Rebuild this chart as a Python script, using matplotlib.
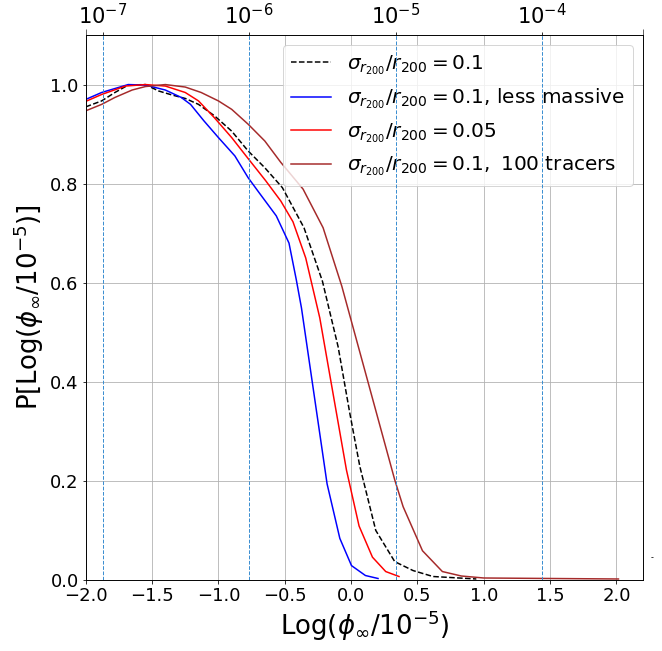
import numpy as np
import matplotlib
matplotlib.use("Agg")
import matplotlib.pyplot as plt

# sigma/r200 = 0.1 (reference run)
x_ref = [-2.0, -1.88, -1.78, -1.68, -1.55, -1.45, -1.35, -1.25, -1.15, -1.03, -0.90,
         -0.776, -0.65, -0.518, -0.355, -0.216, -0.098, -0.01, 0.066, 0.186, 0.329,
         0.467, 0.617, 0.944]
y_ref = [0.955, 0.967, 0.984, 0.999, 1.0, 0.987, 0.979, 0.972, 0.960, 0.937, 0.906,
         0.866, 0.832, 0.792, 0.711, 0.603, 0.471, 0.337, 0.229, 0.100, 0.037,
         0.019, 0.007, 0.002]

# less massive
x_lm = [-2.0, -1.88, -1.68, -1.55, -1.40, -1.28, -1.21, -1.11, -1.0, -0.876, -0.776,
        -0.694, -0.564, -0.468, -0.413, -0.374, -0.181, -0.085, 0.003, 0.108, 0.203]
y_lm = [0.970, 0.984, 1.0, 0.999, 0.989, 0.974, 0.960, 0.927, 0.893, 0.856, 0.812,
        0.782, 0.735, 0.680, 0.606, 0.549, 0.194, 0.084, 0.029, 0.009, 0.003]

# sigma/r200 = 0.05
x_005 = [-2.0, -1.88, -1.70, -1.55, -1.40, -1.25, -1.15, -1.03, -0.90, -0.783, -0.644,
         -0.53, -0.438, -0.342, -0.236, -0.035, 0.06, 0.161, 0.261, 0.361]
y_005 = [0.966, 0.980, 0.997, 1.0, 0.997, 0.984, 0.967, 0.933, 0.893, 0.853, 0.806,
         0.765, 0.723, 0.650, 0.529, 0.222, 0.109, 0.046, 0.017, 0.007]

# 100 tracers
x_100 = [-2.0, -1.88, -1.78, -1.65, -1.55, -1.40, -1.25, -1.13, -1.0, -0.90, -0.776,
         -0.65, -0.53, -0.362, -0.211, -0.07, 0.329, 0.392, 0.538, 0.688, 0.831,
         1.0, 1.5, 2.015]
y_100 = [0.947, 0.960, 0.974, 0.989, 0.996, 1.0, 0.995, 0.984, 0.967, 0.950, 0.920,
         0.886, 0.843, 0.789, 0.711, 0.593, 0.202, 0.148, 0.059, 0.017, 0.008,
         0.004, 0.003, 0.002]

labels = [r'$\sigma_{r_{200}}/r_{200}=0.1$',
          r'$\sigma_{r_{200}}/r_{200}=0.1$, less massive',
          r'$\sigma_{r_{200}}/r_{200}=0.05$',
          r'$\sigma_{r_{200}}/r_{200}=0.1,\ 100$ tracers']

# top axis decades
top_pos = [-1.873, -0.769, 0.335, 1.436]
top_labels = [r'$10^{-7}$', r'$10^{-6}$', r'$10^{-5}$', r'$10^{-4}$']

fig = plt.figure(figsize=(662 / 72, 651 / 72), dpi=72)
ax = fig.add_axes([0.1295, 0.1091, 0.9713 - 0.1295, 0.9462 - 0.1091])

ax.plot(x_ref, y_ref, 'k--', lw=1.5, label=labels[0])
ax.plot(x_lm, y_lm, color='blue', lw=1.5, label=labels[1])
ax.plot(x_005, y_005, color='red', lw=1.5, label=labels[2])
ax.plot(x_100, y_100, color='brown', lw=1.5, label=labels[3])

ax.set_xlim(-2.0, 2.2)
ax.set_ylim(0, 1.1)
ax.set_xticks(np.arange(-2.0, 2.01, 0.5))
ax.set_yticks(np.arange(0, 1.01, 0.2))
ax.tick_params(labelsize=18)
ax.grid(True)
ax.set_xlabel(r'Log($\phi_{\infty}/10^{-5}$)', fontsize=26)
ax.set_ylabel(r'P[Log($\phi_{\infty}/10^{-5}$)]', fontsize=26)
ax.legend(loc='upper right', fontsize=20)

ax2 = ax.twiny()
ax2.set_xlim(ax.get_xlim())
ax2.set_xticks(top_pos)
ax2.set_xticklabels(top_labels)
ax2.set_xticks([-2.0, 2.2], minor=True)
ax2.tick_params(which='minor', length=6)
ax2.tick_params(labelsize=21)
for p in top_pos:
    ax2.axvline(p, color='#3d8fd1', ls='--', lw=1)

fig.text(0.983, 1 - 560 / 651, '-', fontsize=8)

fig.savefig('out.png', dpi=72)
